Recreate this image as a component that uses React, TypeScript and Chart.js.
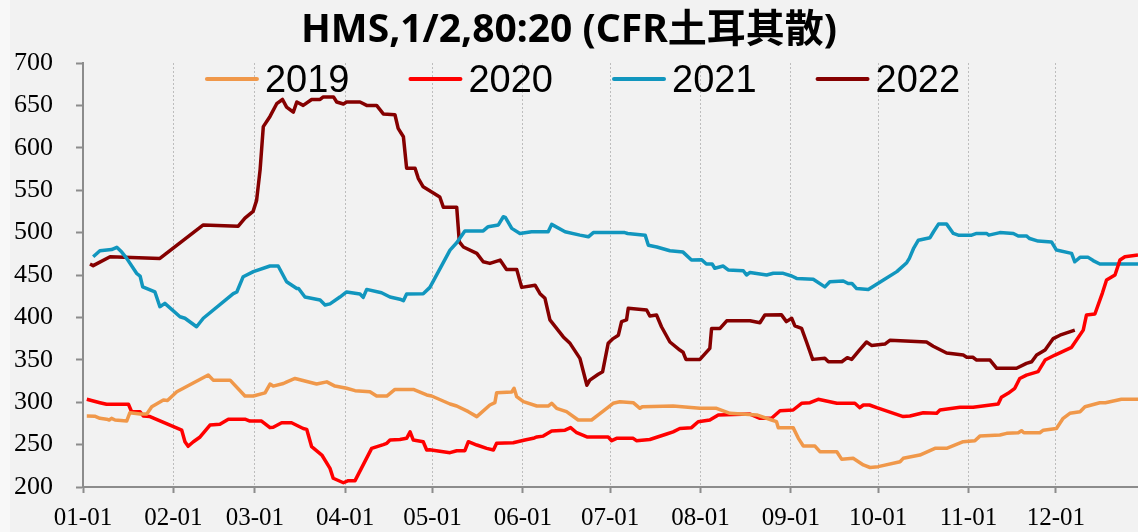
import React, { useEffect, useRef } from "react";
import { Chart, registerables } from "chart.js";

Chart.register(...registerables);

const TITLE = "HMS,1/2,80:20 (CFR土耳其散)";
const SERIES_NAMES = ["2019", "2020", "2021", "2022"];
const SERIES_COLORS = ["#F0984A", "#FF0000", "#1196BE", "#850000"];

const MONTH_START_DAYS = [0, 31, 59, 90, 120, 151, 181, 212, 243, 273, 304, 334];
const MONTH_LABELS = ["01-01", "02-01", "03-01", "04-01", "05-01", "06-01", "07-01", "08-01", "09-01", "10-01", "11-01", "12-01"];

const days2019 = [1.3, 4, 5.8, 8.1, 9, 9.8, 11, 15, 16.1, 19.6, 21.9, 23.6, 27.6, 29, 32.2, 43, 44.7, 50.5, 55.6, 58.5, 62.5, 64.2, 65.3, 68.8, 70, 72.8, 80.2, 83.7, 86.5, 90.5, 93.4, 98.5, 100.8, 104.3, 107.1, 113.4, 118, 119.7, 126, 128.3, 132.3, 135.2, 139.7, 141.4, 142, 147.2, 148, 148.9, 151.2, 155.8, 159.7, 160.9, 162.6, 166, 170, 174.6, 176.9, 179.8, 182, 184.3, 188.9, 191.2, 192, 202.6, 211.8, 217.5, 222.1, 231.3, 236.4, 238.1, 238.7, 243.8, 245.6, 247.3, 251.3, 253, 258.8, 260.5, 264.4, 267.9, 270.2, 273, 280.5, 281.6, 287.3, 292.5, 296.5, 302.2, 306.2, 307.9, 314.8, 317.1, 321.1, 322.2, 323, 328.5, 329.7, 334.2, 336.5, 338.8, 342.3, 344, 349.1, 351, 356.5, 362.2];
const values2019 = [283.7, 283.5, 281, 280, 279, 281, 279, 277.8, 287.6, 286, 286, 294.7, 302.6, 302, 312.4, 332, 326, 326, 307.3, 307.3, 311, 321.4, 319, 322, 324, 328, 321.4, 324, 319, 316.4, 313.6, 312.4, 307.3, 307.3, 315, 315, 308.5, 307.3, 297.9, 295.5, 288.8, 283, 296.7, 299.4, 311, 312, 316.4, 306.5, 300.6, 295.5, 295.5, 298.7, 292.8, 288.8, 279, 279, 285, 292.8, 298.7, 300.6, 299.4, 292.8, 294.7, 295.5, 292.8, 292.8, 286.9, 285, 279, 277, 270, 270, 257.4, 248.3, 248.3, 241.6, 241.6, 232.6, 233.8, 226, 223, 224, 229.8, 233.8, 237.7, 245.6, 245.6, 253.4, 254.6, 260, 261.3, 263.3, 264, 266.4, 264, 264, 267, 269, 281, 286.9, 288.8, 294.7, 299.4, 299.4, 303.4, 303.4];

const days2020 = [1.3, 5.8, 8.1, 15.6, 16.7, 19.6, 20.7, 23, 33.9, 35, 36.1, 37.9, 40.2, 43.6, 47, 49.9, 55.6, 57.3, 61.3, 64.2, 65.3, 68.2, 71.6, 75.6, 76.8, 78.5, 82, 84.8, 85.9, 89.4, 91.1, 93.4, 99.1, 103.1, 104.3, 105.4, 108.8, 111.1, 112.3, 113.4, 116.8, 118, 119, 126, 128.3, 131.1, 132.3, 135.2, 138.6, 140.9, 142, 147.7, 151.7, 154.6, 155.8, 158, 160.9, 165.5, 167.4, 169.5, 173, 180.3, 181.5, 183.2, 188.9, 190, 194.6, 200.4, 202.6, 204.9, 208.9, 211.2, 215.2, 218.1, 229, 232.4, 236.4, 239.3, 243.8, 246.7, 249.6, 252.4, 258.8, 265, 266.7, 267.9, 270, 272.5, 281.6, 283.9, 288.5, 293.1, 294.2, 301.1, 305.6, 314.2, 315.3, 317.6, 319.9, 321.6, 323.9, 327.9, 330.3, 333.7, 339.4, 343.4, 344.5, 347.4, 350, 351.4, 354.3, 356, 357.7, 362.2];
const values2020 = [303.4, 299.4, 297.5, 297.5, 288.8, 288.8, 283.7, 283, 267, 253.4, 248, 253.4, 259, 273, 274, 280, 280, 277.8, 277.8, 270, 270.5, 275.8, 275.8, 269, 268, 247.5, 237.7, 222, 210.3, 205, 207.5, 207.5, 245.6, 250, 251.5, 255.4, 256, 257.4, 265, 255.4, 253.4, 243.6, 244, 240.5, 242.8, 242.8, 253.4, 249.5, 245.6, 243.6, 251.5, 252.2, 255.4, 257.4, 259, 260, 266, 267, 270, 264, 259, 259, 254.6, 257.4, 257.4, 254.6, 256, 262.5, 265, 269, 270, 277, 279, 285, 286, 281, 281, 290, 290.8, 298.7, 299.4, 303.4, 298.7, 298.7, 293.5, 296.7, 296.7, 293.5, 283, 283.7, 287.6, 287, 290.8, 294, 294, 297.9, 305.8, 310.5, 316.4, 328, 332, 336, 349.7, 355.6, 364.7, 385, 402.8, 404, 429, 444, 450, 467.6, 471.5, 473.5];

const days2021 = [3.5, 5.8, 9.8, 11.6, 13.3, 15, 18.4, 19.6, 20.5, 24.7, 26.4, 28.1, 33.3, 35, 39, 41.3, 51.6, 52.8, 55, 58.5, 64.2, 67, 69.9, 73.4, 74, 76.2, 81.4, 83.1, 84.8, 88.2, 90.5, 95.1, 96.2, 97.4, 102.5, 105.4, 108.8, 110, 111.1, 116.8, 119.1, 126, 128.3, 131.1, 137.4, 139.1, 142.6, 144.3, 145, 147.2, 150, 154, 159.7, 160.9, 165.5, 170.6, 173.5, 175.2, 186, 187, 193, 194.1, 197, 201.5, 206, 208.9, 212.4, 214, 216, 216.9, 219.8, 221.5, 226.7, 227.8, 229, 234.7, 237, 240.4, 243.3, 245, 250.7, 254.7, 256.4, 261, 262.7, 264, 265.6, 269.6, 274.8, 279.4, 282.8, 283.7, 285.1, 286.8, 290.8, 292, 293.7, 296.5, 298.8, 300.5, 305.1, 306.8, 310.2, 311, 314.8, 319.4, 321.1, 323.9, 325, 327.9, 332.5, 334.2, 339.4, 340.5, 342.3, 345.1, 346.8, 349.1, 362.2];
const values2021 = [471.5, 478.6, 480, 482.6, 477, 469.6, 452, 448.8, 436, 430, 412.6, 416.5, 400.8, 399, 389, 399, 428, 430, 448, 454, 460.6, 460.6, 442, 434, 434, 424, 420.5, 414.6, 416, 424, 430, 427.6, 423.6, 433, 429, 424, 421.5, 419.7, 427.5, 428, 435.4, 479.4, 488, 502, 502, 507, 509, 518.7, 518, 505, 499, 501, 501, 509.7, 501, 497, 495, 500, 500, 499, 497, 485, 483, 478.6, 477, 467.6, 468, 463, 463, 458, 460.6, 456, 455, 450, 453, 450, 452, 452, 448.8, 446, 445, 436, 442, 443, 440, 440, 434, 433, 444, 454, 464.5, 469.6, 481, 491, 494, 501, 510, 510, 499, 497, 497, 499, 499, 497, 500, 499, 496, 496, 493, 490, 489, 479.4, 475.5, 465.6, 470.8, 470.8, 467, 463, 463];

const days2022 = [2.4, 3.5, 9.3, 26.4, 41.3, 53.3, 55.6, 58.4, 59.6, 60.8, 61.9, 64.2, 66.5, 68.5, 69.9, 72.2, 73.4, 75.6, 78.5, 81.4, 82.5, 86, 87.1, 89.4, 90.5, 95.1, 97.4, 100.8, 103.1, 107.1, 108.2, 110, 111.1, 114, 115.1, 116.8, 122.5, 123.7, 128.3, 129.2, 130.6, 135.2, 137.4, 139.7, 143.2, 145.4, 148.9, 150.6, 155.2, 156.9, 158.6, 160.3, 164.9, 167.2, 170.6, 173, 174, 176.9, 178.4, 180.3, 182, 183.8, 184.9, 186.6, 187.2, 193.5, 194.6, 196.9, 198.6, 201.5, 204.9, 206, 207, 211.8, 215.2, 215.8, 218.7, 221, 229, 232.4, 234.1, 239.8, 241.5, 243.3, 244.4, 246.7, 248.4, 250.5, 254.7, 255.9, 260.5, 262.4, 263.9, 266.7, 269, 270.7, 275.3, 277, 289.6, 291.9, 296.5, 302.2, 303.4, 305.5, 306.8, 311.4, 313.7, 320.5, 323.9, 325.7, 327.4, 330.3, 333.1, 335.4, 340.5];
const values2022 = [463, 461, 471.5, 469.6, 509, 507.5, 517, 525, 538, 574, 625, 637, 652, 657, 648, 642, 654, 650, 657, 657, 660, 660, 654, 651.6, 654, 654, 650, 650, 640, 639, 623, 613, 576, 576, 564, 554, 542, 530, 530, 489, 483, 475.5, 465.6, 463.7, 467.6, 456.6, 456.6, 435.4, 438, 428, 422.5, 397, 377, 369.4, 351.7, 320, 326, 333, 336, 369.4, 375, 379, 395, 397, 410.7, 408.7, 401.6, 402.8, 389, 371, 361.5, 359, 350.5, 350.5, 363.5, 387, 387, 396, 396, 393.7, 402.8, 403, 395, 399, 390, 387, 371, 350.5, 351.7, 347.7, 347.7, 352.5, 350.5, 362, 371, 367, 368.6, 373, 371, 366, 358, 355.6, 353, 353, 349.7, 349.7, 340, 340, 345.8, 347.7, 355.6, 361.5, 375, 379, 385];

const SERIES_DAYS = [days2019, days2020, days2021, days2022];
const SERIES_VALUES = [values2019, values2020, values2021, values2022];

const Y_MIN = 200;
const Y_MAX = 700;
const Y_STEP = 50;
const X_MIN = 0;
const X_MAX = 362.2;

const W = 1138;
const H = 532;

const decorPlugin = {
  id: "decor",
  beforeDraw(chart: any) {
    const ctx = chart.ctx;
    ctx.save();
    ctx.fillStyle = "#f2f2f2";
    ctx.fillRect(0, 0, chart.width, chart.height);
    ctx.fillStyle = "#f8f8f8";
    ctx.fillRect(0, 0, 10, chart.height);
    ctx.restore();
  },
  afterDraw(chart: any) {
    const ctx = chart.ctx;
    ctx.save();
    // title
    ctx.fillStyle = "#000";
    ctx.font = 'bold 39px "Noto Sans", "Noto Sans CJK SC", sans-serif';
    ctx.textAlign = "center";
    ctx.textBaseline = "alphabetic";
    ctx.fillText(TITLE, 569, 42);
    // legend
    ctx.font = '38px "Liberation Sans", "Noto Sans", sans-serif';
    ctx.textAlign = "left";
    const lineLen = 54;
    const lineGap = 6;
    const itemGap = 59;
    const widths = SERIES_NAMES.map((n) => ctx.measureText(n).width);
    const total = widths.reduce((a, w) => a + lineLen + lineGap + w, 0) + itemGap * (SERIES_NAMES.length - 1);
    let x = 582.5 - total / 2;
    SERIES_NAMES.forEach((name, i) => {
      ctx.strokeStyle = SERIES_COLORS[i];
      ctx.lineWidth = 4;
      ctx.lineCap = "round";
      ctx.beginPath();
      ctx.moveTo(x + 2, 79);
      ctx.lineTo(x + lineLen - 2, 79);
      ctx.stroke();
      ctx.fillStyle = "#000";
      ctx.fillText(name, x + lineLen + lineGap, 92);
      x += lineLen + lineGap + widths[i] + itemGap;
    });
    ctx.restore();
  },
};

export default function App() {
  const canvasRef = useRef<HTMLCanvasElement | null>(null);

  useEffect(() => {
    document.body.style.margin = "0";
    document.body.style.overflow = "hidden";
    const canvas = canvasRef.current;
    if (!canvas) return;
    const datasets = SERIES_NAMES.map((name, i) => ({
      label: name,
      data: SERIES_DAYS[i].map((d, j) => ({ x: d, y: SERIES_VALUES[i][j] })),
      borderColor: SERIES_COLORS[i],
      backgroundColor: SERIES_COLORS[i],
      borderWidth: 3.5,
      pointRadius: 0,
      tension: 0,
      fill: false,
      borderJoinStyle: "round" as const,
    }));
    const chart = new Chart(canvas, {
      type: "line",
      data: { datasets },
      plugins: [decorPlugin],
      options: {
        animation: false,
        responsive: false,
        devicePixelRatio: 1,
        layout: { padding: { top: 63, right: 0, bottom: 0, left: 0 } },
        plugins: {
          legend: { display: false },
          title: { display: false },
          tooltip: { enabled: false },
        },
        scales: {
          x: {
            type: "linear",
            min: X_MIN,
            max: X_MAX,
            afterBuildTicks: (scale: any) => {
              scale.ticks = MONTH_START_DAYS.map((v) => ({ value: v }));
            },
            afterFit: (scale: any) => {
              scale.height = 45;
            },
            ticks: {
              autoSkip: false,
              maxRotation: 0,
              padding: 10,
              color: "#000",
              font: { family: '"Liberation Serif", serif', size: 25 },
              callback: (v: any) => {
                const idx = MONTH_START_DAYS.indexOf(Number(v));
                return idx >= 0 ? MONTH_LABELS[idx] : "";
              },
            },
            grid: {
              display: true,
              drawOnChartArea: true,
              drawTicks: true,
              tickLength: 6,
              color: "#bdbdbd",
              lineWidth: 1,
              tickColor: "#8c8c8c",
              tickWidth: 2,
              tickBorderDash: [],
            },
            border: { display: true, color: "#8c8c8c", width: 2, dash: [2, 2] },
          },
          y: {
            type: "linear",
            min: Y_MIN,
            max: Y_MAX,
            afterFit: (scale: any) => {
              scale.width = 83;
            },
            ticks: {
              stepSize: Y_STEP,
              padding: 23,
              color: "#000",
              font: { family: '"Liberation Serif", serif', size: 26 },
            },
            grid: {
              display: true,
              drawOnChartArea: false,
              drawTicks: true,
              tickLength: 7,
              tickColor: "#8c8c8c",
              tickWidth: 2,
              color: "#8c8c8c",
            },
            border: { display: true, color: "#8c8c8c", width: 2 },
          },
        },
      },
    } as any);
    return () => chart.destroy();
  }, []);

  return (
    <div style={{ width: W, height: H }}>
      <canvas ref={canvasRef} width={W} height={H} style={{ display: "block", width: W, height: H }} />
    </div>
  );
}
